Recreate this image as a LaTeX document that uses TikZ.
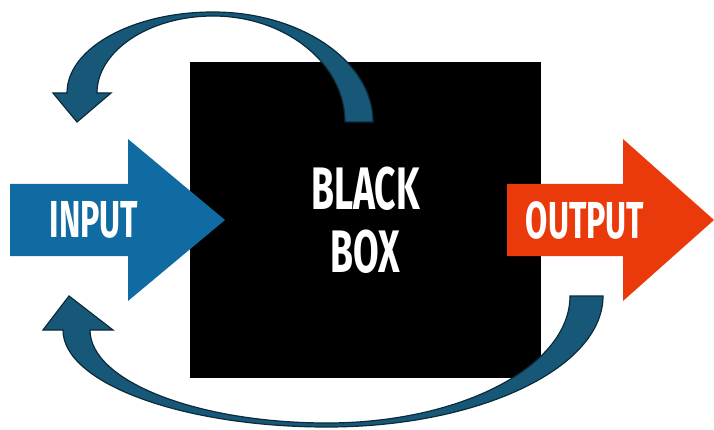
\documentclass[tikz,border=0pt]{standalone}
\usepackage{fontspec}
\newfontfamily\posterfont[FakeStretch=0.62]{Fira Sans}
\usetikzlibrary{positioning}

\definecolor{inblue}{HTML}{116BA3}
\definecolor{outred}{HTML}{EA3A0C}
\definecolor{loopblue}{HTML}{175879}
\definecolor{loopedge}{HTML}{0B2A3A}

\begin{document}
\begin{tikzpicture}[
    x=1pt, y=-1pt,
    blackbox/.style={fill=black, minimum width=351pt, minimum height=316pt, inner sep=0pt,
        text=white, align=center, font={\posterfont\bfseries\fontsize{60}{63}\selectfont}},
    flowtext/.style={text=white, inner sep=0pt, font={\posterfont\bfseries\fontsize{52}{52}\selectfont}},
    loop/.style={fill=loopblue, draw=loopedge, line width=1.2pt, line join=miter},
]
\useasboundingbox (0,0) rectangle (714,430);

% the box
\node[blackbox] (box) at (365.5,220) {BLACK\\BOX};

% big arrows
\fill[inblue] (10,184) -- (128,184) -- (128,139) -- (225,220) -- (128,301) -- (128,256) -- (10,256) -- cycle;
\fill[outred] (507,184) -- (623,184) -- (623,139) -- (714,220) -- (623,301) -- (623,256) -- (507,256) -- cycle;
\node[flowtext] (input) at (94,220) {INPUT};
\node[flowtext] (output) at (585,220) {OUTPUT};

% feedback loops
\draw[loop] (373,122) .. controls (373,61.5) and (301,12) .. (213,12)
    .. controls (133,12) and (67,48) .. (67,93)
    -- (53,93) -- (77,122) -- (111,93) -- (97,93)
    .. controls (97,51) and (149,16) .. (213,16)
    .. controls (286,16) and (345,64) .. (345,122) -- cycle;
\draw[loop] (603,296) .. controls (603,368) and (479,427) .. (327,427)
    .. controls (182,427) and (63,383) .. (63,330)
    -- (43,330) -- (69,296) -- (113,330) -- (90,330)
    .. controls (90,381) and (197,423) .. (327,423)
    .. controls (461,423) and (570,366) .. (570,296) -- cycle;
\end{tikzpicture}
\end{document}
